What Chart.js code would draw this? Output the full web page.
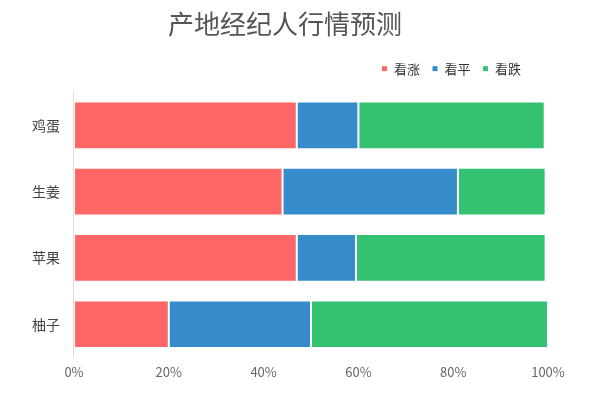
<!DOCTYPE html>
<html>
<head>
<meta charset="utf-8">
<script src="https://cdn.jsdelivr.net/npm/chart.js@4.4.1/dist/chart.umd.min.js"></script>
<style>
    html, body { margin: 0; padding: 0; background: #fff; }
    #wrap { width: 600px; height: 400px; }
</style>
</head>
<body>
<div id="wrap"><canvas id="forecastChart"></canvas></div>
<script>
// produce items and the share of brokers per outlook (%)
const categories = ['鸡蛋', '生姜', '苹果', '柚子'];
const seriesNames = ['看涨', '看平', '看跌'];
const riseValues = [47, 44, 47, 20];
const flatValues = [13, 37, 12.5, 30];
const fallValues = [39.3, 18.5, 40, 50];
const xTickStep = 20;

const seriesColors = ['#ff6666', '#368bcb', '#34c172'];

Chart.defaults.font.family = '"Noto Sans CJK SC", "Noto Sans", sans-serif';

// nudge title and legend so they sit where the design has them
const headerOffset = {
    id: 'headerOffset',
    afterLayout(chart) {
        const title = chart.titleBlock;
        title.left += 2;
        title.right += 2;

        const legend = chart.legend;
        legend.right = chart.chartArea.right - 15;
        legend.top -= 7;
        legend.bottom -= 7;
    }
};

const datasets = [riseValues, flatValues, fallValues].map((values, i) => ({
    label: seriesNames[i],
    data: values,
    backgroundColor: seriesColors[i],
    borderColor: '#ffffff',
    borderWidth: 1,
    borderSkipped: false
}));

const ctx = document.getElementById('forecastChart').getContext('2d');
new Chart(ctx, {
    type: 'bar',
    data: {
        labels: categories,
        datasets: datasets
    },
    plugins: [headerOffset],
    options: {
        indexAxis: 'y',
        responsive: true,
        maintainAspectRatio: false,
        animation: false,
        layout: {
            padding: { top: 0, left: 18, right: 52, bottom: 13 }
        },
        plugins: {
            title: {
                display: true,
                text: '产地经纪人行情预测',
                color: '#555',
                font: { size: 26, weight: 'normal' },
                padding: { top: 9, bottom: 17 }
            },
            legend: {
                display: true,
                align: 'end',
                labels: {
                    boxWidth: 6,
                    boxHeight: 6,
                    padding: 12,
                    color: '#333',
                    font: { size: 13 }
                }
            },
            tooltip: { enabled: false }
        },
        scales: {
            x: {
                stacked: true,
                min: 0,
                max: 100,
                grid: { display: false, drawTicks: false },
                border: { display: false },
                ticks: {
                    stepSize: xTickStep,
                    padding: 7,
                    color: '#666',
                    font: { size: 13 },
                    callback: value => value + '%'
                }
            },
            y: {
                stacked: true,
                grid: { display: false, drawTicks: false },
                border: { display: true, color: '#dddddd', width: 1 },
                ticks: {
                    padding: 14,
                    color: '#444',
                    font: { size: 14 }
                }
            }
        }
    }
});
</script>
</body>
</html>
